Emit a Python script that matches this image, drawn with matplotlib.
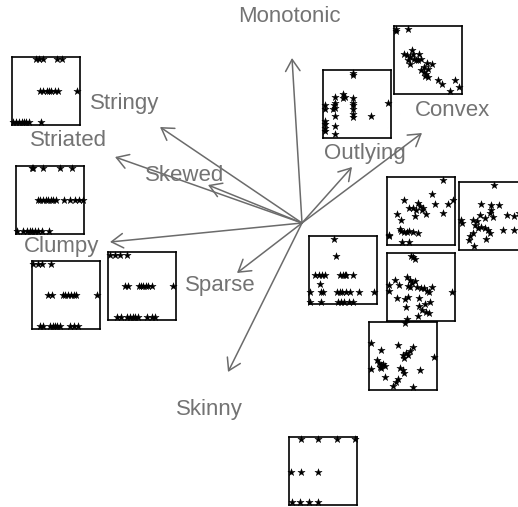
import matplotlib
matplotlib.use("Agg")
import matplotlib.pyplot as plt

# scagnostics biplot: variable loadings (arrows)
varNames = ["Monotonic", "Stringy", "Striated", "Skewed", "Clumpy",
            "Sparse", "Skinny", "Outlying", "Convex"]
loadX = [-0.10, -1.42, -1.87, -0.94, -1.92, -0.65, -0.74, 0.50, 1.20]
loadY = [1.65, 0.96, 0.66, 0.38, -0.19, -0.50, -1.49, 0.56, 0.90]

# where each small scatterplot sits in the biplot (scores)
scoreX = [-2.56, -2.52, -2.365, -1.60, 0.55, 1.26, 1.19, 1.91, 0.41, 1.185, 1.01, 0.21]
scoreY = [1.32, 0.23, -0.72, -0.63, 1.19, 1.63, 0.12, 0.07, -0.47, -0.64, -1.325, -2.48]

# points of each small scatterplot (scaled to 0..1)
p1x = [0.35, 0.40, 0.45, 0.66, 0.74, 0.41, 0.46, 0.51, 0.55, 0.58, 0.63, 0.68, 0.95,
       0.02, 0.06, 0.10, 0.14, 0.17, 0.21, 0.25, 0.43]
p1y = [0.97] * 5 + [0.50] * 8 + [0.05] * 8

p2x = [0.23, 0.25, 0.39, 0.65, 0.82,
       0.33, 0.36, 0.40, 0.44, 0.47, 0.51, 0.55, 0.59, 0.70, 0.80, 0.87, 0.93, 0.98,
       0.02, 0.11, 0.16, 0.20, 0.23, 0.28, 0.33, 0.38, 0.48]
p2y = [0.97] * 5 + [0.50] * 13 + [0.04] * 9

p3x = [0.02, 0.10, 0.15, 0.28,
       0.24, 0.30, 0.46, 0.49, 0.53, 0.58, 0.62, 0.66, 0.96,
       0.12, 0.17, 0.27, 0.31, 0.34, 0.38, 0.42, 0.57, 0.63, 0.68]
p3y = [0.96] * 4 + [0.50] * 9 + [0.05] * 10

p4x = [0.03, 0.10, 0.17, 0.28,
       0.25, 0.30, 0.45, 0.48, 0.52, 0.56, 0.59, 0.64, 0.95,
       0.13, 0.19, 0.28, 0.33, 0.37, 0.40, 0.44, 0.57, 0.64, 0.69]
p4y = [0.96] * 4 + [0.50] * 9 + [0.04] * 10

p5x = [0.44, 0.44, 0.30, 0.29, 0.33, 0.17, 0.17, 0.16, 0.17, 0.14, 0.17,
       0.03, 0.03, 0.03, 0.03, 0.03, 0.03, 0.17, 0.17,
       0.44, 0.44, 0.44, 0.44, 0.44, 0.44, 0.70, 0.96]
p5y = [0.96, 0.93, 0.64, 0.59, 0.60, 0.60, 0.52, 0.48, 0.44, 0.42, 0.33,
       0.49, 0.43, 0.25, 0.20, 0.15, 0.11, 0.18, 0.06,
       0.59, 0.52, 0.48, 0.42, 0.36, 0.31, 0.33, 0.52]

p6x = [0.03, 0.03, 0.20, 0.14, 0.19, 0.23, 0.27, 0.28, 0.21, 0.24, 0.30, 0.33, 0.37,
       0.35, 0.39, 0.44, 0.48, 0.50, 0.56, 0.40, 0.44, 0.47, 0.50, 0.45, 0.65, 0.70,
       0.82, 0.89, 0.96]
p6y = [0.96, 0.93, 0.95, 0.59, 0.57, 0.54, 0.65, 0.59, 0.50, 0.44, 0.52, 0.50, 0.59,
       0.50, 0.52, 0.40, 0.45, 0.37, 0.44, 0.35, 0.32, 0.30, 0.25, 0.27, 0.20, 0.14,
       0.05, 0.21, 0.11]

p7x = [0.83, 0.66, 0.25, 0.70, 0.90, 0.97, 0.33, 0.38, 0.46, 0.48, 0.51, 0.53, 0.42,
       0.41, 0.58, 0.82, 0.14, 0.21, 0.19, 0.21, 0.25, 0.29, 0.33, 0.38, 0.46, 0.03,
       0.03, 0.22, 0.33]
p7y = [0.96, 0.75, 0.66, 0.60, 0.60, 0.66, 0.55, 0.54, 0.62, 0.57, 0.52, 0.54, 0.51,
       0.42, 0.45, 0.47, 0.46, 0.37, 0.24, 0.20, 0.19, 0.19, 0.20, 0.19, 0.18, 0.15,
       0.13, 0.05, 0.05]

p8x = [0.52, 0.33, 0.47, 0.59, 0.47, 0.46, 0.31, 0.38, 0.50, 0.70, 0.81, 0.03, 0.04,
       0.21, 0.26, 0.24, 0.28, 0.33, 0.38, 0.43, 0.46, 0.21, 0.16, 0.14, 0.40, 0.64,
       0.81, 0.22, 0.88, 0.92]
p8y = [0.96, 0.67, 0.66, 0.66, 0.59, 0.54, 0.52, 0.47, 0.49, 0.52, 0.50, 0.44, 0.40,
       0.44, 0.42, 0.37, 0.33, 0.34, 0.32, 0.29, 0.25, 0.25, 0.20, 0.14, 0.16, 0.29,
       0.30, 0.06, 0.55, 0.40]

p9x = [0.37, 0.40, 0.09, 0.14, 0.19, 0.24, 0.45, 0.50, 0.53, 0.54, 0.64, 0.16,
       0.02, 0.17, 0.20, 0.41, 0.46, 0.49, 0.54, 0.60, 0.74, 0.96,
       0.02, 0.17, 0.42, 0.47, 0.51, 0.59, 0.65]
p9y = [0.96, 0.70] + [0.43] * 9 + [0.30] + [0.17] * 10 + [0.03] * 7

p10x = [0.36, 0.39, 0.42, 0.13, 0.19, 0.30, 0.34, 0.31, 0.34, 0.38, 0.42, 0.45, 0.50,
        0.55, 0.59, 0.63, 0.67, 0.04, 0.04, 0.15, 0.27, 0.31, 0.48, 0.29, 0.48, 0.57,
        0.64, 0.52, 0.63, 0.58, 0.47, 0.30, 0.96]
p10y = [0.96, 0.94, 0.91, 0.60, 0.53, 0.65, 0.60, 0.51, 0.50, 0.56, 0.59, 0.50, 0.49,
        0.48, 0.44, 0.43, 0.50, 0.53, 0.44, 0.34, 0.33, 0.36, 0.34, 0.21, 0.22, 0.25,
        0.28, 0.16, 0.12, 0.13, 0.07, 0.03, 0.43]

p11x = [0.53, 0.03, 0.17, 0.43, 0.65, 0.60, 0.55, 0.50, 0.52, 0.57, 0.12, 0.15, 0.18,
        0.21, 0.16, 0.23, 0.18, 0.03, 0.46, 0.50, 0.52, 0.75, 0.23, 0.43, 0.40, 0.36,
        0.65, 0.96]
p11y = [0.98, 0.68, 0.58, 0.66, 0.63, 0.56, 0.53, 0.51, 0.46, 0.51, 0.43, 0.39, 0.36,
        0.38, 0.33, 0.34, 0.31, 0.30, 0.31, 0.29, 0.25, 0.28, 0.19, 0.15, 0.11, 0.05,
        0.04, 0.48]

p12x = [0.17, 0.43, 0.70, 0.97, 0.03, 0.17, 0.43, 0.04, 0.16, 0.30, 0.43]
p12y = [0.97] * 4 + [0.49] * 3 + [0.05] * 4

panelX = [p1x, p2x, p3x, p4x, p5x, p6x, p7x, p8x, p9x, p10x, p11x, p12x]
panelY = [p1y, p2y, p3y, p4y, p5y, p6y, p7y, p8y, p9y, p10y, p11y, p12y]

arrowCol = "#6b6b6b"
textCol = "#737373"
boxSize = 0.68
labelScale = 1.25

fig = plt.figure(figsize=(5.18, 5.07), dpi=100)
ax = fig.add_axes([0, 0, 1, 1])
ax.set_xlim(-3.02, 2.16)
ax.set_ylim(-2.84, 2.23)
ax.axis("off")

# arrows + labels
for name, lx, ly in zip(varNames, loadX, loadY):
    ax.annotate("", xy=(lx, ly), xytext=(0, 0),
                arrowprops=dict(arrowstyle="->,head_length=0.42,head_width=0.26",
                                color=arrowCol, lw=1.1, mutation_scale=20,
                                shrinkA=0, shrinkB=0))
    ax.text(lx * labelScale, ly * labelScale, name, color=textCol,
            fontsize=16, family="Liberation Sans", ha="center", va="center")

# little scatterplots
for sx, sy, px, py in zip(scoreX, scoreY, panelX, panelY):
    sub = ax.inset_axes([sx - boxSize / 2, sy - boxSize / 2, boxSize, boxSize],
                        transform=ax.transData)
    sub.set_facecolor("none")
    sub.scatter(px, py, marker="*", s=30, c="black", linewidths=0.3, clip_on=False)
    sub.set_xlim(0, 1)
    sub.set_ylim(0, 1)
    sub.set_xticks([])
    sub.set_yticks([])
    for sp in sub.spines.values():
        sp.set_linewidth(1.2)
        sp.set_color("black")

fig.savefig("out.png", dpi=100)
